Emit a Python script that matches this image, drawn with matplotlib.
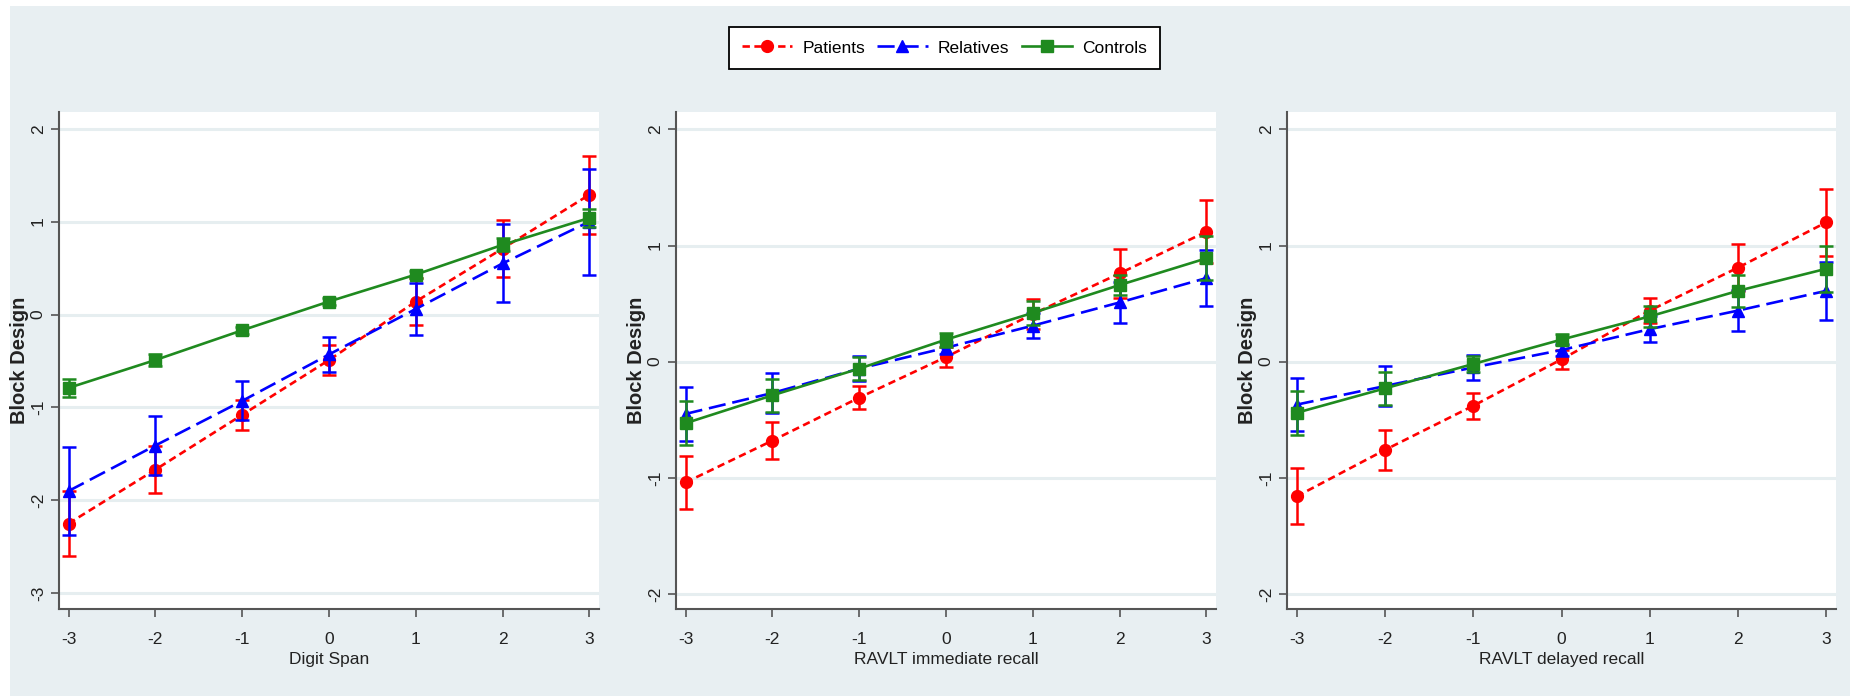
import numpy as np
import matplotlib
matplotlib.use("Agg")
import matplotlib.pyplot as plt
from matplotlib import font_manager
from matplotlib.patches import Rectangle
from matplotlib.lines import Line2D

plt.rcParams["font.family"] = ["Liberation Sans", "DejaVu Sans"]

# condensed face for tick labels and legend, if it is installed
try:
    font_manager.findfont("Liberation Sans Narrow", fallback_to_default=False)
    narrow = ["Liberation Sans Narrow", "Liberation Sans", "DejaVu Sans"]
    nsize = 14.5
except ValueError:
    narrow = ["Liberation Sans", "DejaVu Sans"]
    nsize = 12.5

levels = [-3, -2, -1, 0, 1, 2, 3]
groups = ["Patients", "Relatives", "Controls"]
xlabels = ["Digit Span", "RAVLT immediate recall", "RAVLT delayed recall"]
ylabel = "Block Design"

# predicted Block Design score and CI half-width, per panel
digit_patients = [-2.25, -1.67, -1.08, -0.49, 0.14, 0.71, 1.29]
digit_patients_ci = [0.35, 0.25, 0.16, 0.16, 0.25, 0.31, 0.42]
digit_relatives = [-1.90, -1.41, -0.93, -0.43, 0.06, 0.55, 1.00]
digit_relatives_ci = [0.47, 0.32, 0.21, 0.19, 0.28, 0.42, 0.57]
digit_controls = [-0.79, -0.49, -0.17, 0.14, 0.43, 0.75, 1.04]
digit_controls_ci = [0.10, 0.06, 0.04, 0.04, 0.04, 0.07, 0.10]

imm_patients = [-1.04, -0.68, -0.31, 0.04, 0.41, 0.76, 1.12]
imm_patients_ci = [0.23, 0.16, 0.10, 0.09, 0.13, 0.21, 0.27]
imm_relatives = [-0.45, -0.27, -0.06, 0.12, 0.31, 0.51, 0.72]
imm_relatives_ci = [0.23, 0.17, 0.11, 0.05, 0.11, 0.18, 0.24]
imm_controls = [-0.53, -0.29, -0.06, 0.19, 0.42, 0.66, 0.89]
imm_controls_ci = [0.19, 0.14, 0.10, 0.06, 0.10, 0.09, 0.19]

del_patients = [-1.16, -0.76, -0.38, 0.02, 0.44, 0.81, 1.20]
del_patients_ci = [0.24, 0.17, 0.11, 0.08, 0.11, 0.20, 0.29]
del_relatives = [-0.37, -0.21, -0.05, 0.10, 0.28, 0.44, 0.61]
del_relatives_ci = [0.23, 0.17, 0.11, 0.05, 0.11, 0.18, 0.25]
del_controls = [-0.44, -0.23, -0.02, 0.19, 0.39, 0.61, 0.80]
del_controls_ci = [0.19, 0.14, 0.07, 0.05, 0.09, 0.14, 0.20]

panels = [
    [(digit_patients, digit_patients_ci), (digit_relatives, digit_relatives_ci),
     (digit_controls, digit_controls_ci)],
    [(imm_patients, imm_patients_ci), (imm_relatives, imm_relatives_ci),
     (imm_controls, imm_controls_ci)],
    [(del_patients, del_patients_ci), (del_relatives, del_relatives_ci),
     (del_controls, del_controls_ci)],
]
yticks = [[-3, -2, -1, 0, 1, 2], [-2, -1, 0, 1, 2], [-2, -1, 0, 1, 2]]
ylims = [(-3.17, 2.18), (-2.13, 2.15), (-2.13, 2.15)]

colors = ["#ff0000", "#0000ff", "#1f8a1f"]
markers = ["o", "^", "s"]
dashes = [(2.8, 1.7), (6.5, 2.6), None]

bg = "#e8eff2"
W, H = 1850, 696
fig = plt.figure(figsize=(W / 100, H / 100), dpi=100, facecolor="white")
fig.patches.append(Rectangle((10 / W, 0), 1 - 10 / W, 1 - 6 / H,
                             transform=fig.transFigure, facecolor=bg,
                             edgecolor="none", zorder=-10))

boxes = [(59, 599), (676, 1216), (1287, 1836)]
top_px, bot_px = 112, 609

for i, (l, r) in enumerate(boxes):
    ax = fig.add_axes([l / W, 1 - bot_px / H, (r - l) / W, (bot_px - top_px) / H])
    ax.set_facecolor("white")
    for j, (vals, ci) in enumerate(panels[i]):
        ln = ax.errorbar(levels, vals, yerr=ci, color=colors[j], marker=markers[j],
                         markersize=8.5, linewidth=1.9, elinewidth=1.8, capsize=5,
                         capthick=1.8, zorder=3 + j)
        if dashes[j] is not None:
            ln.lines[0].set_dashes(dashes[j])
    ax.set_xlim(-3.11, 3.11)
    ax.set_ylim(*ylims[i])
    ax.set_xticks(levels)
    ax.set_xticklabels([str(v) for v in levels], family=narrow, fontsize=nsize)
    ax.set_yticks(yticks[i])
    ax.set_yticklabels([str(v) for v in yticks[i]], rotation=90, va="center",
                       fontsize=12.5)
    ax.grid(axis="y", color="#e6eef0", linewidth=2.2)
    ax.set_axisbelow(True)
    for s in ["top", "right"]:
        ax.spines[s].set_visible(False)
    for s in ["left", "bottom"]:
        ax.spines[s].set_color("#555555")
        ax.spines[s].set_linewidth(1.5)
    ax.tick_params(axis="both", length=5.5, width=1.2, color="#555555",
                   labelcolor="#222222")
    ax.tick_params(axis="x", pad=11)
    ax.tick_params(axis="y", pad=4)
    ax.set_xlabel(xlabels[i], family=narrow, fontsize=nsize, color="#222222",
                  labelpad=4)
    ax.set_ylabel(ylabel, fontsize=14.5, fontweight="bold", color="#222222",
                  labelpad=1)

handles = []
for j in range(3):
    h = Line2D([], [], color=colors[j], marker=markers[j], markersize=8.5,
               linewidth=1.9)
    if dashes[j] is not None:
        h.set_dashes(dashes[j])
    handles.append(h)

leg = fig.legend(handles, groups, loc="center", bbox_to_anchor=(944.5 / W, 1 - 48 / H),
                 ncol=3, prop={"family": narrow, "size": nsize}, frameon=True,
                 fancybox=False, edgecolor="black", facecolor="white", framealpha=1,
                 handlelength=2.9, handletextpad=0.6, columnspacing=0.7,
                 borderpad=0.75, borderaxespad=0)
leg.get_frame().set_linewidth(1.3)

fig.savefig("out.png", dpi=100, facecolor=fig.get_facecolor())
